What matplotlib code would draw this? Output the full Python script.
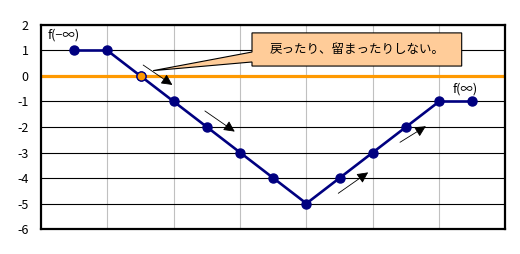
import matplotlib
matplotlib.use('Agg')
import matplotlib.pyplot as plt
from matplotlib.patches import Polygon

plt.rcParams['font.family'] = ['Noto Sans CJK JP', 'DejaVu Sans']

# data
x_vals = [0.5, 1.0, 1.5, 2.0, 2.5, 3.0, 3.5, 4.0, 4.5, 5.0, 5.5, 6.0, 6.5]
y_vals = [1, 1, 0, -1, -2, -3, -4, -5, -4, -3, -2, -1, -1]
highlight_idx = 2            # the zero crossing, drawn in orange
y_ticks = [2, 1, 0, -1, -2, -3, -4, -5, -6]
callout_text = '戻ったり、留まったりしない。'
label_left = 'f(−∞)'
label_right = 'f(∞)'

# direction arrows (start, end) in data coords
arrows = [((1.54, 0.43), (1.98, -0.35)),
          ((2.47, -1.37), (2.92, -2.18)),
          ((4.48, -4.60), (4.93, -3.78)),
          ((5.41, -2.60), (5.80, -1.97))]

NAVY = '#000080'
ORANGE = '#FF9900'

fig = plt.figure(figsize=(5.2, 2.54), dpi=100)
ax = fig.add_axes([0.0788, 0.0984, 0.8933, 0.8032])
ax.set_xlim(0, 7)
ax.set_ylim(-6, 2)

# grid: black horizontal, grey vertical
for yv in y_ticks:
    ax.axhline(yv, color='black', lw=0.8, zorder=1)
for xv in range(1, 7):
    ax.axvline(xv, color='#C0C0C0', lw=0.8, zorder=0.5)
ax.axhline(0, color=ORANGE, lw=2.3, zorder=2)

ax.plot(x_vals, y_vals, color=NAVY, lw=1.9, marker='o', ms=6.5,
        mfc=NAVY, mec=NAVY, zorder=3)
ax.plot([x_vals[highlight_idx]], [y_vals[highlight_idx]], 'o', ms=6.5,
        mfc=ORANGE, mec=NAVY, mew=0.9, zorder=4)

for (x0, y0), (x1, y1) in arrows:
    ax.annotate('', xy=(x1, y1), xytext=(x0, y0),
                arrowprops=dict(arrowstyle='-|>,head_length=0.6,head_width=0.3',
                                color='black', lw=0.6,
                                mutation_scale=11, shrinkA=0, shrinkB=0),
                zorder=5)

# callout box with wedge pointing at the orange point
bx0, bx1, by0, by1 = 3.18, 6.34, 0.39, 1.69
callout = Polygon([(bx0, by1), (bx1, by1), (bx1, by0), (bx0, by0),
                   (bx0, 0.55), (1.69, 0.21), (bx0, 0.94)],
                  closed=True, facecolor='#FFCC99', edgecolor='black',
                  lw=0.8, zorder=6)
ax.add_patch(callout)
ax.text((bx0 + bx1) / 2, (by0 + by1) / 2, callout_text, ha='center',
        va='center', fontsize=9, zorder=7)

ax.text(0.1, 1.6, label_left, fontsize=9, va='center', ha='left', zorder=7)
ax.text(6.2, -0.5, label_right, fontsize=9, va='center', ha='left', zorder=7)

ax.set_xticks([])
ax.set_yticks(y_ticks)
ax.set_yticklabels([str(v) for v in y_ticks], fontsize=9)
ax.tick_params(axis='y', length=0, pad=9)
for sp in ax.spines.values():
    sp.set_linewidth(1.6)
    sp.set_color('black')
    sp.set_zorder(8)

fig.savefig('out.png', dpi=100)
